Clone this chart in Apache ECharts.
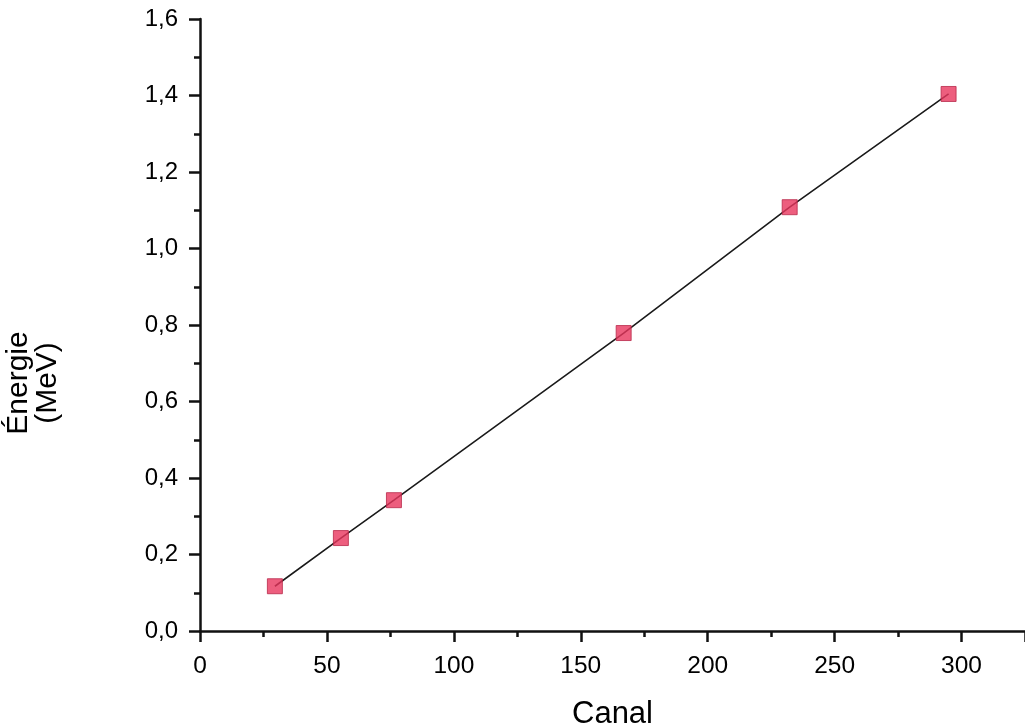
<!DOCTYPE html>
<html>
<head>
<meta charset="utf-8">
<script src="https://cdn.jsdelivr.net/npm/echarts@6/dist/echarts.min.js"></script>
<style>
html,body{margin:0;padding:0;background:#fff;}
#c{width:1025px;height:725px;}
</style>
</head>
<body>
<div id="c"></div>
<script>
const canal = [29.5, 55.5, 76.4, 166.9, 232.3, 294.9];
const energie = [0.117, 0.243, 0.342, 0.779, 1.108, 1.404];
const xTicks = [0, 50, 100, 150, 200, 250, 300];
const yTicks = [0, 0.2, 0.4, 0.6, 0.8, 1.0, 1.2, 1.4, 1.6];

const pts = canal.map((x, i) => [x, energie[i]]);
const font = '"Liberation Sans", Arial, sans-serif';

const chart = echarts.init(document.getElementById('c'), null, {renderer: 'canvas'});
chart.setOption({
  animation: false,
  backgroundColor: '#ffffff',
  grid: {left: 200, top: 19, right: 0, bottom: 94, containLabel: false, outerBoundsMode: 'none'},
  xAxis: {
    type: 'value', min: 0, max: 325, interval: 50,
    name: 'Canal', nameLocation: 'middle', nameGap: 68,
    nameTextStyle: {fontFamily: font, fontSize: 31, color: '#000'},
    axisLine: {show: true, onZero: false, lineStyle: {color: '#111', width: 2.5}},
    axisTick: {show: true, inside: false, length: 11, lineStyle: {color: '#111', width: 2.5}},
    minorTick: {show: true, splitNumber: 2, length: 6, lineStyle: {color: '#111', width: 2.5}},
    axisLabel: {
      fontFamily: font, fontSize: 24.5, color: '#000', margin: 23, showMaxLabel: false,
      formatter: v => xTicks.includes(v) ? String(v) : ''
    },
    splitLine: {show: false}
  },
  yAxis: {
    type: 'value', min: 0, max: 1.6, interval: 0.2,
    name: 'Énergie\n(MeV)', nameLocation: 'middle', nameGap: 138, nameRotate: 90,
    nameTextStyle: {fontFamily: font, fontSize: 30, color: '#000', lineHeight: 29, align: 'center', padding: [0, 116, 0, 0]},
    axisLine: {show: true, onZero: false, lineStyle: {color: '#111', width: 2.5}},
    axisTick: {show: true, inside: false, length: 11, lineStyle: {color: '#111', width: 2.5}},
    minorTick: {show: true, splitNumber: 2, length: 6, lineStyle: {color: '#111', width: 2.5}},
    axisLabel: {
      fontFamily: font, fontSize: 24, color: '#000', margin: 22,
      formatter: v => {
        const t = yTicks.find(k => Math.abs(k - v) < 1e-9);
        return t === undefined ? '' : t.toFixed(1).replace('.', ',');
      }
    },
    splitLine: {show: false}
  },
  series: [
    {
      type: 'line', data: pts, symbol: 'none',
      lineStyle: {color: '#1a1a1a', width: 1.6}, z: 2
    },
    {
      type: 'scatter', data: pts, symbol: 'rect', symbolSize: 15,
      itemStyle: {color: '#e8365e', borderColor: '#b8284a', borderWidth: 1}, z: 3
    }
  ]
});
</script>
</body>
</html>
